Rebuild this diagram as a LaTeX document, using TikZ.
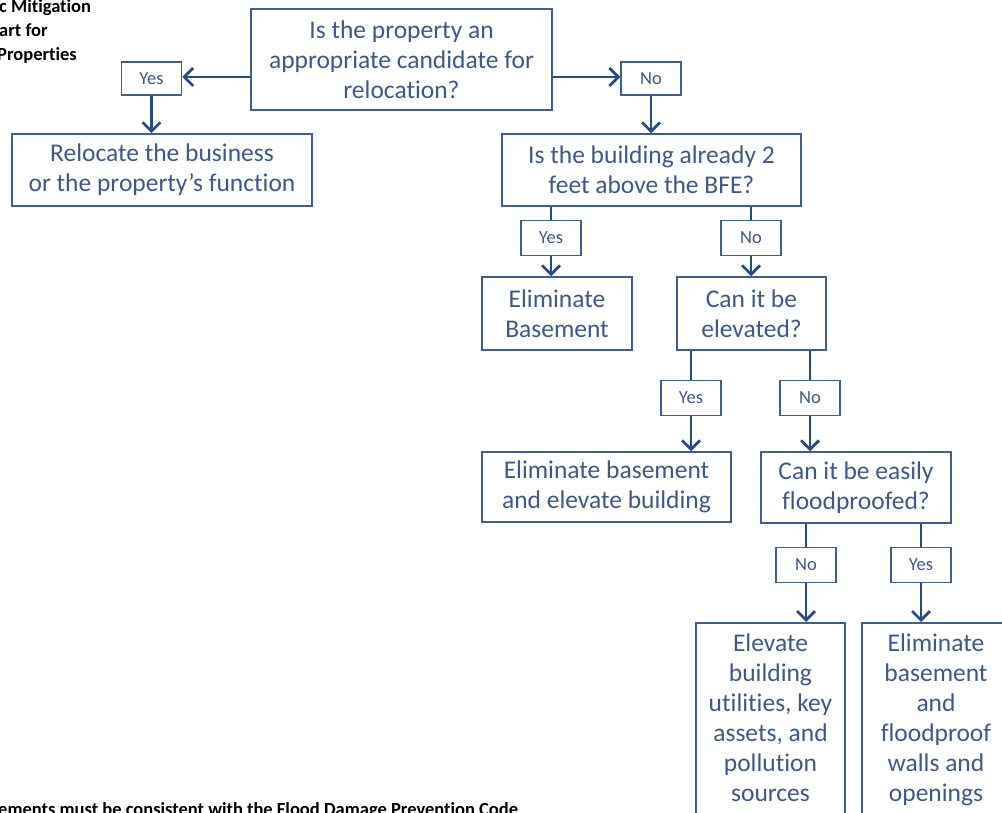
\documentclass[tikz,border=0pt]{standalone}
\usepackage{fontspec}
\setmainfont{Carlito}[Ligatures=CommonOff]
\usetikzlibrary{arrows.meta}
\definecolor{txtc}{RGB}{60,88,138}
\definecolor{bordc}{RGB}{62,94,144}
\definecolor{connc}{RGB}{38,74,132}
\tikzset{
  box/.style={draw=bordc, line width=1.5pt, text=txtc, align=center, inner sep=0pt,
    font=\fontsize{25.5}{30}\selectfont},
  lbl/.style={draw=bordc, line width=1.5pt, text=txtc, align=center, inner sep=0pt,
    minimum width=60pt, minimum height=35pt, font=\fontsize{18.5}{20}\selectfont},
  conn/.style={draw=connc, line width=2.8pt},
  arr/.style={conn, -{Straight Barb[length=9pt,width=18pt]}},
  ttl/.style={font=\fontsize{18.5}{22}\selectfont\bfseries, text=black, inner sep=0pt}
}
\begin{document}
\begin{tikzpicture}[x=1pt,y=-1pt]
\useasboundingbox (0,0) rectangle (1002,813);
% title (cut off)
\node[ttl, anchor=base west] (t1) at (-1,13) {c Mitigation};
\node[ttl, anchor=base west] (t2) at (-1,37) {art for};
\node[ttl, anchor=base west] (t3) at (-3,61) {Properties};
\node[ttl, anchor=base west] (t4) at (-2,815) {ements must be consistent with the Flood Damage Prevention Code};
% boxes
\node[box, minimum width=301pt, minimum height=101pt] (q1) at (401.5,59.5) {Is the property an\\appropriate candidate for\\relocation?};
\node[lbl, minimum height=33pt] (y1) at (151.5,78.5) {Yes};
\node[lbl, minimum height=33pt] (n1) at (651,78.5) {No};
\node[box, minimum width=300pt, minimum height=72pt] (reloc) at (162,170) {Relocate the business\\or the property’s function};
\node[box, minimum width=299pt, minimum height=72pt] (q2) at (651.5,170) {Is the building already 2\\feet above the BFE?};
\node[lbl] (y2) at (551,238) {Yes};
\node[lbl] (n2) at (751,238) {No};
\node[box, minimum width=150pt, minimum height=73pt] (elimb) at (557,313.5) {Eliminate\\Basement};
\node[box, minimum width=149pt, minimum height=73pt] (q3) at (751.5,313.5) {Can it be\\elevated?};
\node[lbl] (y3) at (691,398) {Yes};
\node[lbl] (n3) at (810,398) {No};
\node[box, minimum width=249pt, minimum height=70pt] (elimel) at (606.5,487) {Eliminate basement\\and elevate building};
\node[box, minimum width=190pt, minimum height=71pt] (q4) at (856,487.5) {Can it be easily\\floodproofed?};
\node[lbl] (n4) at (806,565) {No};
\node[lbl] (y4) at (921,565) {Yes};
\node[box, minimum width=149pt, minimum height=208pt, anchor=north] (b1) at (770.5,622) {};
\node[box, minimum width=148pt, minimum height=208pt, anchor=north] (b2) at (936,622) {};
\node[text=txtc, align=center, anchor=north, inner sep=0pt, font=\fontsize{25.5}{30}\selectfont] (b1t) at ([yshift=-12pt]b1.north) {Elevate\\building\\utilities, key\\assets, and\\pollution\\sources};
\node[text=txtc, align=center, anchor=north, inner sep=0pt, font=\fontsize{25.5}{30}\selectfont] (b2t) at ([yshift=-12pt]b2.north) {Eliminate\\basement\\and\\floodproof\\walls and\\openings};
% connectors
\draw[arr] (q1.west |- 0,77) -- (y1.east |- 0,77);
\draw[arr] (q1.east |- 0,77) -- (n1.west |- 0,77);
\draw[arr] (y1.south) -- (y1.south |- reloc.north);
\draw[arr] (n1.south) -- (n1.south |- q2.north);
\draw[conn] (y2.north |- q2.south) -- (y2.north);
\draw[conn] (n2.north |- q2.south) -- (n2.north);
\draw[arr] (y2.south) -- (y2.south |- elimb.north);
\draw[arr] (n2.south) -- (n2.south |- q3.north);
\draw[conn] (y3.north |- q3.south) -- (y3.north);
\draw[conn] (n3.north |- q3.south) -- (n3.north);
\draw[arr] (y3.south) -- (y3.south |- elimel.north);
\draw[arr] (n3.south) -- (n3.south |- q4.north);
\draw[conn] (n4.north |- q4.south) -- (n4.north);
\draw[conn] (y4.north |- q4.south) -- (y4.north);
\draw[arr] (n4.south) -- (n4.south |- b1.north);
\draw[arr] (y4.south) -- (y4.south |- b2.north);
\end{tikzpicture}
\end{document}
